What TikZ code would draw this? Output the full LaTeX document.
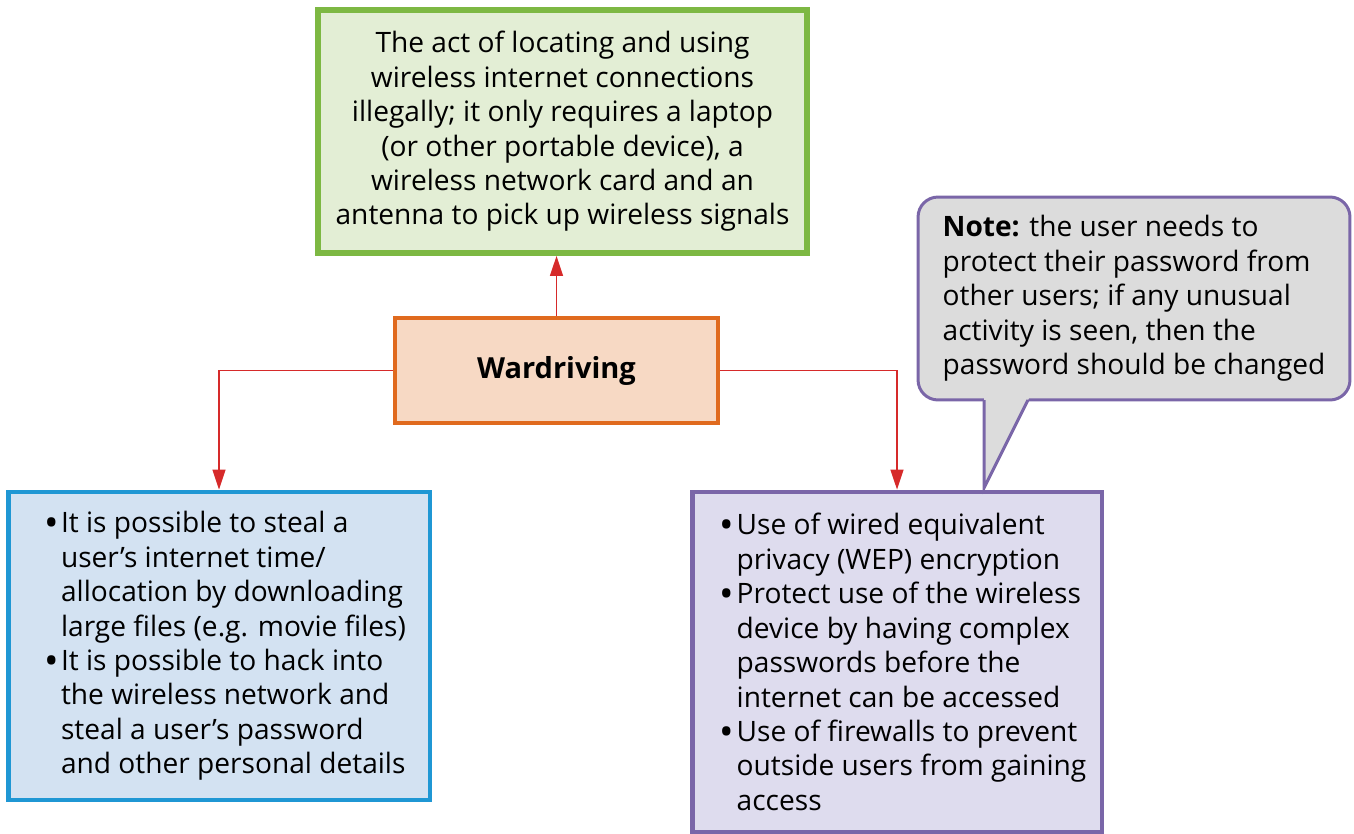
\documentclass[tikz,border=0pt]{standalone}
\usepackage{fontspec}
\setmainfont{Open Sans}
\usetikzlibrary{arrows.meta,calc}
\definecolor{actline}{HTML}{7DB843}
\definecolor{actfill}{HTML}{E3EED5}
\definecolor{wardline}{HTML}{E06A1E}
\definecolor{wardfill}{HTML}{F7D9C4}
\definecolor{stealline}{HTML}{1F97D4}
\definecolor{stealfill}{HTML}{D3E2F2}
\definecolor{protline}{HTML}{7A66A8}
\definecolor{protfill}{HTML}{DEDCEE}
\definecolor{notefill}{HTML}{DCDCDC}
\definecolor{linkred}{HTML}{D62A2A}
\newcommand{\itm}{\hspace*{0.24cm}\makebox[0.34cm][l]{\raisebox{-2pt}{\fontsize{22}{22}\selectfont\textbullet}}}
\newcommand{\cnt}{\hspace*{0.58cm}}
\begin{document}
\begin{tikzpicture}[x=0.02cm,y=-0.02cm,
    box/.style={draw,line width=2.8pt,inner sep=0pt,align=center,
      font=\fontsize{16}{19.6}\selectfont},
    link/.style={draw=linkred,line width=0.85pt,-{Triangle[length=0.4cm,width=0.26cm]}}]
    \useasboundingbox (0,0) rectangle (1354,834);
    % Definicao
    \node[box,draw=actline,fill=actfill,line width=3.4pt,minimum width=9.78cm,minimum height=4.86cm] (act) at (562.5,131.5)
      {The act of locating and using\\wireless internet connections\\illegally; it only requires a laptop\\(or other portable device), a\\wireless network card and an\\antenna to pick up wireless signals};
    % Centro
    \node[box,draw=wardline,fill=wardfill,minimum width=6.46cm,minimum height=2.1cm] (ward) at (556.5,370.5)
      {\fontsize{16.5}{20}\selectfont\bfseries Wardriving};
    % Riscos
    \node[box,align=left,draw=stealline,fill=stealfill,minimum width=8.44cm,minimum height=6.16cm] (steal) at (219,646)
      {\itm It is possible to steal a\\\cnt user's internet time/\\\cnt allocation by downloading\\\cnt large files (e.g. movie files)\\
       \itm It is possible to hack into\\\cnt the wireless network and\\\cnt steal a user's password\\\cnt and other personal details};
    % Protecao
    \node[box,align=left,draw=protline,fill=protfill,minimum width=8.2cm,minimum height=6.8cm] (protect) at (897,662)
      {\itm Use of wired equivalent\\\cnt privacy (WEP) encryption\\
       \itm Protect use of the wireless\\\cnt device by having complex\\\cnt passwords before the\\\cnt internet can be accessed\\
       \itm Use of firewalls to prevent\\\cnt outside users from gaining\\\cnt access};
    % Nota
    \node[box,align=left,draw=protline,fill=notefill,line width=1.7pt,rounded corners=0.4cm,minimum width=8.64cm,minimum height=4.06cm] (note) at (1134,298.5)
      {\textbf{Note:} the user needs to\\protect their password from\\other users; if any unusual\\activity is seen, then the\\password should be changed};
    % Ponta da nota
    \coordinate (base1) at (984,400);
    \coordinate (base2) at (1028,400);
    \coordinate (tip) at (984,488);
    \fill[notefill] (984,395) -- (1030.5,395) -- (tip) -- cycle;
    \draw[protline,line width=1.7pt] (base1) -- (tip) -- (base2);
    % Setas
    \draw[link] (ward.north) -- (ward.north |- act.south);
    \draw[link] (ward.west) -| (steal.north);
    \draw[link] (ward.east) -| (protect.north);
\end{tikzpicture}
\end{document}
